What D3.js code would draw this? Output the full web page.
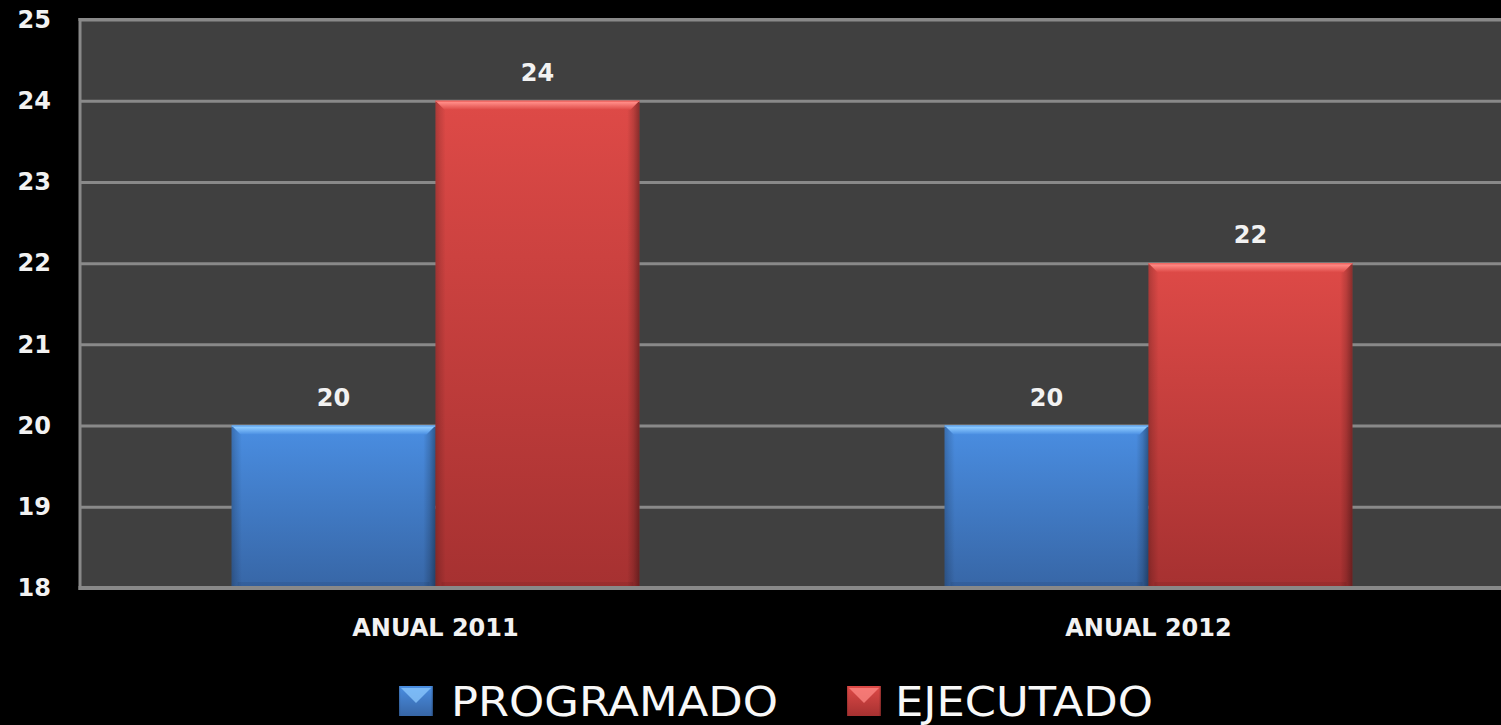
<!DOCTYPE html>
<html>
<head>
<meta charset="utf-8">
<script src="https://cdn.jsdelivr.net/npm/d3@7"></script>
<style>
  html, body { margin: 0; padding: 0; background: #000; }
  svg { display: block; }
</style>
</head>
<body>
<svg id="chart" width="1501" height="725"></svg>
<script>
const categories = ["ANUAL 2011", "ANUAL 2012"];
const seriesNames = ["PROGRAMADO", "EJECUTADO"];
const programado = [20, 20];
const ejecutado = [24, 22];
const yTicks = [18, 19, 20, 21, 22, 23, 24, 25];

const W = 1501, H = 725;
const plot = { left: 80, top: 19.5, right: 1506, bottom: 588 };
const svg = d3.select("#chart");
const FONT = "DejaVu Sans, Verdana, sans-serif";

const y = d3.scaleLinear().domain([18, 25]).range([plot.bottom, plot.top]);
const x0 = d3.scaleBand().domain(categories).range([plot.left - 1, plot.right - 1])
  .paddingInner(0.428).paddingOuter(0.214);
const x1 = d3.scaleBand().domain(seriesNames).range([0, x0.bandwidth()]).padding(0);

const palettes = {
  PROGRAMADO: { top: "#4a8ee2", bottom: "#3766a6", hi: "#8ccaff", hiEdge: "#6eb0f4" },
  EJECUTADO: { top: "#de4a47", bottom: "#a63131", hi: "#ff8a85", hiEdge: "#f06a66" }
};

const defs = svg.append("defs");
Object.entries(palettes).forEach(([k, p]) => {
  const g = defs.append("linearGradient").attr("id", "body-" + k).attr("x1", 0).attr("y1", 0).attr("x2", 0).attr("y2", 1);
  g.append("stop").attr("offset", "0%").attr("stop-color", p.top);
  g.append("stop").attr("offset", "100%").attr("stop-color", p.bottom);
  const hi = defs.append("linearGradient").attr("id", "hi-" + k).attr("x1", 0).attr("y1", 0).attr("x2", 0).attr("y2", 1);
  hi.append("stop").attr("offset", "0%").attr("stop-color", p.hiEdge);
  hi.append("stop").attr("offset", "20%").attr("stop-color", p.hi);
  hi.append("stop").attr("offset", "100%").attr("stop-color", p.top);
});
const side = defs.append("linearGradient").attr("id", "side").attr("x1", 0).attr("y1", 0).attr("x2", 1).attr("y2", 0);
side.append("stop").attr("offset", "0%").attr("stop-color", "#000").attr("stop-opacity", 0.22);
side.append("stop").attr("offset", "2%").attr("stop-color", "#000").attr("stop-opacity", 0.12);
side.append("stop").attr("offset", "5%").attr("stop-color", "#000").attr("stop-opacity", 0);
side.append("stop").attr("offset", "94%").attr("stop-color", "#000").attr("stop-opacity", 0);
side.append("stop").attr("offset", "97%").attr("stop-color", "#000").attr("stop-opacity", 0.15);
side.append("stop").attr("offset", "100%").attr("stop-color", "#000").attr("stop-opacity", 0.38);

// plot background
svg.append("rect").attr("x", plot.left).attr("y", plot.top)
  .attr("width", plot.right - plot.left).attr("height", plot.bottom - plot.top)
  .attr("fill", "#404040");

// gridlines
const grid = svg.append("g").attr("transform", `translate(${plot.left},0)`)
  .call(d3.axisLeft(y).tickValues(yTicks.filter(t => t > 18)).tickSize(-(plot.right - plot.left)).tickFormat(""));
grid.select(".domain").remove();
grid.selectAll("line").attr("stroke", "#898989").attr("stroke-width", 3);

// bars
const series = [
  { name: "PROGRAMADO", values: programado },
  { name: "EJECUTADO", values: ejecutado }
];
const bars = [];
categories.forEach((c, i) => {
  series.forEach(s => bars.push({ cat: c, name: s.name, value: s.values[i] }));
});

const bg = svg.append("g");
bars.forEach(d => {
  const bx = x0(d.cat) + x1(d.name);
  const bw = x1.bandwidth();
  const by = y(d.value);
  const bh = y(18) - by;
  const p = palettes[d.name];
  const g = bg.append("g");
  g.append("rect").attr("x", bx).attr("y", by).attr("width", bw).attr("height", bh)
    .attr("fill", `url(#body-${d.name})`);
  g.append("rect").attr("x", bx).attr("y", by).attr("width", bw).attr("height", bh)
    .attr("fill", "url(#side)");
  const b = 9;
  g.append("polygon")
    .attr("points", [[bx, by], [bx + bw, by], [bx + bw - b, by + b], [bx + b, by + b]].map(q => q.join(",")).join(" "))
    .attr("fill", `url(#hi-${d.name})`);
  g.append("rect").attr("x", bx).attr("y", by).attr("width", bw).attr("height", 1.2)
    .attr("fill", p.hiEdge);
  g.append("rect").attr("x", bx + 6).attr("y", y(18) - 6).attr("width", bw - 12).attr("height", 6)
    .attr("fill", "#000").attr("opacity", 0.07);
  svg.append("text").attr("x", bx + bw / 2).attr("y", by - 20)
    .attr("text-anchor", "middle")
    .attr("font-family", FONT).attr("font-weight", "bold")
    .attr("font-size", 24).attr("fill", "#f2f2f2")
    .text(d.value);
});

// borders
svg.append("line").attr("x1", plot.left - 1.5).attr("x2", plot.right).attr("y1", plot.top).attr("y2", plot.top)
  .attr("stroke", "#898989").attr("stroke-width", 3);
svg.append("line").attr("x1", plot.left - 1.5).attr("x2", plot.right).attr("y1", plot.bottom).attr("y2", plot.bottom)
  .attr("stroke", "#898989").attr("stroke-width", 4);
svg.append("line").attr("x1", plot.left).attr("x2", plot.left).attr("y1", plot.top - 1.5).attr("y2", plot.bottom + 2)
  .attr("stroke", "#898989").attr("stroke-width", 3);

// y axis labels
const yAxis = svg.append("g").attr("transform", `translate(${plot.left},0)`)
  .call(d3.axisLeft(y).tickValues(yTicks).tickSize(0).tickPadding(29).tickFormat(d3.format("d")));
yAxis.select(".domain").remove();
yAxis.selectAll("text")
  .attr("font-family", FONT).attr("font-weight", "bold")
  .attr("font-size", 24).attr("fill", "#f2f2f2");

// x axis labels
const xAxis = svg.append("g").attr("transform", `translate(0,${plot.bottom})`)
  .call(d3.axisBottom(x0).tickSize(0).tickPadding(31));
xAxis.select(".domain").remove();
xAxis.selectAll("text")
  .attr("font-family", FONT).attr("font-weight", "bold")
  .attr("font-size", 24).attr("fill", "#f2f2f2");

// legend
const legendItems = [
  { name: "PROGRAMADO", sx: 399, tx: 451, tw: 327 },
  { name: "EJECUTADO", sx: 847, tx: 895, tw: 258 }
];
const lg = svg.append("g");
legendItems.forEach(it => {
  const p = palettes[it.name];
  const sw = 34, sh = 30, sy = 686;
  lg.append("rect").attr("x", it.sx).attr("y", sy).attr("width", sw).attr("height", sh)
    .attr("fill", `url(#body-${it.name})`);
  lg.append("rect").attr("x", it.sx).attr("y", sy).attr("width", sw).attr("height", sh)
    .attr("fill", "url(#side)");
  lg.append("polygon")
    .attr("points", [[it.sx + 2, sy + 2], [it.sx + sw - 2, sy + 2], [it.sx + sw / 2, sy + sh / 2 + 2]].map(q => q.join(",")).join(" "))
    .attr("fill", p.hi).attr("opacity", 0.75);
  lg.append("text").attr("x", it.tx).attr("y", 716)
    .attr("font-family", FONT)
    .attr("font-size", 41).attr("fill", "#f8f8f8")
    .attr("textLength", it.tw).attr("lengthAdjust", "spacingAndGlyphs")
    .text(it.name);
});
</script>
</body>
</html>
